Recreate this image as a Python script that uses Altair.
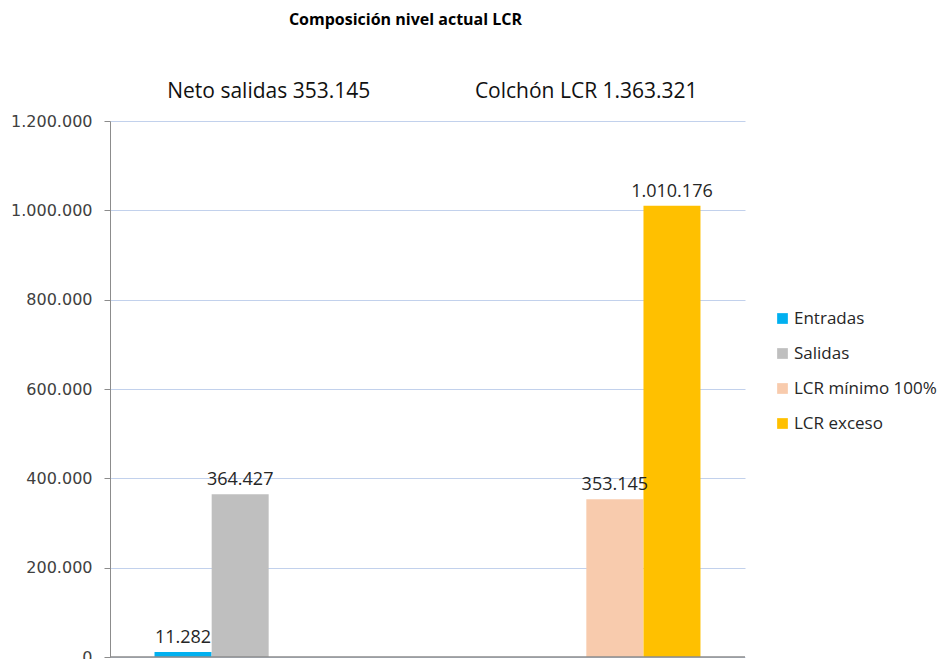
import altair as alt
import pandas as pd

categorias = ["Neto salidas 353.145", "Neto salidas 353.145",
              "Colchón LCR 1.363.321", "Colchón LCR 1.363.321"]
orden_categorias = ["Neto salidas 353.145", "Colchón LCR 1.363.321"]
series = ["Entradas", "Salidas", "LCR mínimo 100%", "LCR exceso"]
valores = [11282, 364427, 353145, 1010176]
colores = ["#00B0F0", "#BFBFBF", "#F8CBAD", "#FFC000"]
ticks_y = [0, 200000, 400000, 600000, 800000, 1000000, 1200000]

df = pd.DataFrame({"categoria": categorias, "serie": series, "valor": valores})

x_enc = alt.X(
    "categoria:N",
    sort=orden_categorias,
    scale=alt.Scale(paddingInner=0.28, paddingOuter=0.14),
    axis=alt.Axis(orient="top", title=None, ticks=False, tickSize=0, domain=False,
                  labelAngle=0, labelFont="Open Sans", labelFontSize=21, labelLimit=0,
                  labelColor="#111111", labelPadding=20, grid=False),
)
xoff_enc = alt.XOffset("serie:N", sort=series,
                       scale=alt.Scale(domain=series, paddingInner=0, paddingOuter=0))
y_enc = alt.Y(
    "valor:Q",
    scale=alt.Scale(domain=[0, 1200000], nice=False),
    axis=alt.Axis(title=None, values=ticks_y, format=",d", labelFont="DejaVu Sans",
                  labelFontSize=16, labelColor="#404040", labelPadding=12,
                  tickSize=6, tickColor="#8C8C8C", domainColor="#8C8C8C",
                  gridColor="#C2D1EC", gridWidth=1),
)

base = alt.Chart(df)

barras = base.mark_bar(size=57).encode(
    x=x_enc,
    xOffset=xoff_enc,
    y=y_enc,
    color=alt.Color(
        "serie:N",
        scale=alt.Scale(domain=series, range=colores),
        legend=alt.Legend(title=None, orient="none", legendX=664, legendY=189,
                          symbolType="square", symbolSize=115, symbolStrokeWidth=0,
                          labelFont="Open Sans", labelFontSize=17, labelColor="#262626",
                          rowPadding=17, labelOffset=3),
    ),
)

etiquetas = base.mark_text(baseline="bottom", dy=-5, font="Open Sans", fontSize=18,
                           color="#262626").encode(
    x=alt.X("categoria:N", sort=orden_categorias),
    xOffset=alt.XOffset("serie:N", sort=series),
    y=alt.Y("valor:Q"),
    text=alt.Text("valor:Q", format=",d"),
)

base_linea = alt.Chart(pd.DataFrame({"cero": [0]})).mark_rule(
    color="#8C8C8C", strokeWidth=1.5).encode(y=alt.Y("cero:Q"))

chart = alt.layer(barras, etiquetas, base_linea).properties(
    width=635,
    height=536,
    autosize=alt.AutoSizeParams(type="none"),
    padding={"left": 110, "top": 121, "right": 194, "bottom": 2},
    title=alt.TitleParams("Composición nivel actual LCR", font="Open Sans", fontSize=16,
                          fontWeight="bold", color="#000000", anchor="middle",
                          offset=52, dx=-22),
).configure(
    locale={"number": {"decimal": ",", "thousands": ".", "grouping": [3],
                       "currency": ["", " €"]}}
).configure_view(stroke=None)

chart.save("out.html", embed_options={"renderer": "svg", "actions": False})
